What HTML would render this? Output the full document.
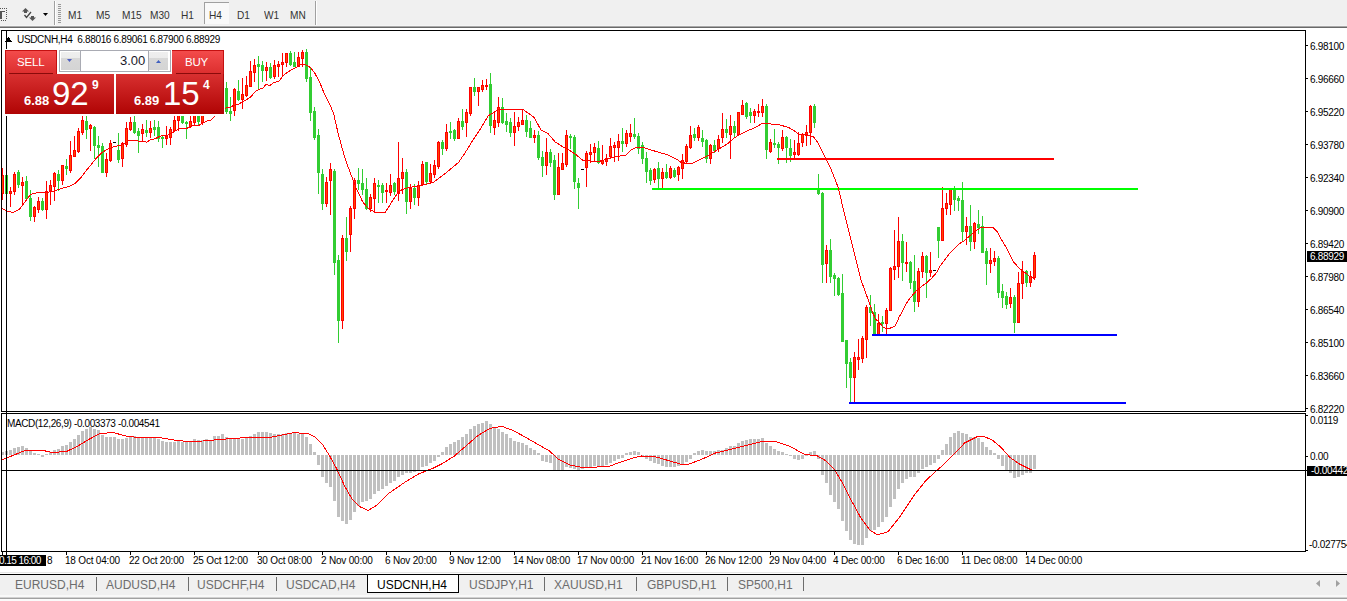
<!DOCTYPE html>
<html><head><meta charset="utf-8">
<style>
html,body{margin:0;padding:0;}
body{width:1347px;height:601px;overflow:hidden;position:relative;background:#fff;font-family:"Liberation Sans", sans-serif;}
.abs{position:absolute;}
.tb{position:absolute;left:0;top:0;width:1347px;height:26px;background:#f0f0f0;}
.tf{position:absolute;top:9px;font-size:11px;color:#333;line-height:12px;transform:scaleX(0.92);transform-origin:0 0;}
.pl{position:absolute;left:1310px;font-size:10px;line-height:12px;color:#000;letter-spacing:-0.3px;}
.tl{position:absolute;top:554px;font-size:10px;line-height:13px;color:#000;white-space:nowrap;letter-spacing:-0.2px;}
.tab{position:absolute;top:577px;font-size:12px;line-height:16px;color:#6d6d6d;white-space:nowrap;}
.sep{position:absolute;top:577px;width:1px;height:14px;background:#6d6d6d;}
</style></head><body>
<div class="tb"></div>
<div class="abs" style="left:0;top:25px;width:1347px;height:1px;background:#f4f4f4"></div>
<div class="abs" style="left:0;top:26px;width:1347px;height:1px;background:#a8a8a8"></div>
<div class="abs" style="left:0;top:27px;width:1347px;height:1px;background:#696969"></div>
<svg class="abs" style="left:0;top:0" width="70" height="26" viewBox="0 0 70 26">
 <rect x="0" y="11" width="5" height="1" fill="#555"/><rect x="0" y="11" width="2" height="8" fill="#555"/>
 <g fill="#555"><rect x="0" y="8" width="1" height="1"/><rect x="2" y="8" width="1" height="1"/><rect x="4" y="8" width="1" height="1"/><rect x="6" y="8" width="1" height="1"/><rect x="6" y="10" width="1" height="1"/><rect x="6" y="12" width="1" height="1"/><rect x="6" y="14" width="1" height="1"/><rect x="6" y="16" width="1" height="1"/><rect x="6" y="18" width="1" height="1"/><rect x="1" y="20" width="1" height="1"/><rect x="3" y="20" width="1" height="1"/><rect x="5" y="20" width="1" height="1"/></g>
 <path d="M22 11.5 L25.5 8 L29 11.5 Z" fill="#555"/><rect x="24" y="11" width="3" height="2" fill="#555"/><path d="M29 17.5 L32.5 21 L36 17.5 Z" fill="#555"/><rect x="31" y="16" width="3" height="2" fill="#555"/>
 <path d="M24.5 15 L26.5 17.5 L31 12" stroke="#444" stroke-width="1.3" fill="none"/>
 <path d="M43 13 L48 13 L45.5 16 Z" fill="#000"/>
 <rect x="54" y="1" width="1" height="24" fill="#a0a0a0"/><rect x="55" y="1" width="1" height="24" fill="#fff"/>
 <g fill="#999"><rect x="58" y="4" width="3" height="1"/><rect x="58" y="6" width="3" height="1"/><rect x="58" y="8" width="3" height="1"/><rect x="58" y="10" width="3" height="1"/><rect x="58" y="12" width="3" height="1"/><rect x="58" y="14" width="3" height="1"/><rect x="58" y="16" width="3" height="1"/><rect x="58" y="18" width="3" height="1"/><rect x="58" y="20" width="3" height="1"/><rect x="58" y="22" width="3" height="1"/></g>
</svg>
<div class="abs" style="left:204px;top:2px;width:24px;height:21px;border-left:1px solid #a0a0a0;border-top:1px solid #a0a0a0;background:#f9f9f9"></div>
<div class="tf" style="left:68px">M1</div>
<div class="tf" style="left:96px">M5</div>
<div class="tf" style="left:122px">M15</div>
<div class="tf" style="left:150px">M30</div>
<div class="tf" style="left:181px">H1</div>
<div class="tf" style="left:209px">H4</div>
<div class="tf" style="left:237px">D1</div>
<div class="tf" style="left:264px">W1</div>
<div class="tf" style="left:290px">MN</div>
<div class="abs" style="left:315px;top:1px;width:1px;height:24px;background:#a0a0a0"></div>
<div class="abs" style="left:316px;top:1px;width:1px;height:24px;background:#fff"></div>

<svg class="abs" style="left:0;top:0" width="1347" height="601" viewBox="0 0 1347 601">
<g shape-rendering="crispEdges">
<rect x="1.5" y="30.5" width="1304" height="381" fill="none" stroke="#000" stroke-width="1"/>
<rect x="1.5" y="413.5" width="1304" height="138" fill="none" stroke="#000" stroke-width="1"/>
<rect x="1306" y="45" width="2" height="1" fill="#000"/>
<rect x="1306" y="78" width="2" height="1" fill="#000"/>
<rect x="1306" y="111" width="2" height="1" fill="#000"/>
<rect x="1306" y="144" width="2" height="1" fill="#000"/>
<rect x="1306" y="177" width="2" height="1" fill="#000"/>
<rect x="1306" y="210" width="2" height="1" fill="#000"/>
<rect x="1306" y="243" width="2" height="1" fill="#000"/>
<rect x="1306" y="276" width="2" height="1" fill="#000"/>
<rect x="1306" y="309" width="2" height="1" fill="#000"/>
<rect x="1306" y="342" width="2" height="1" fill="#000"/>
<rect x="1306" y="375" width="2" height="1" fill="#000"/>
<rect x="1306" y="408" width="2" height="1" fill="#000"/>
<rect x="1306" y="415" width="2" height="1" fill="#000"/>
<rect x="1306" y="456" width="2" height="1" fill="#000"/>
<rect x="1306" y="550" width="2" height="1" fill="#000"/>
<rect x="66" y="552" width="1" height="3" fill="#000"/>
<rect x="130" y="552" width="1" height="3" fill="#000"/>
<rect x="194" y="552" width="1" height="3" fill="#000"/>
<rect x="258" y="552" width="1" height="3" fill="#000"/>
<rect x="322" y="552" width="1" height="3" fill="#000"/>
<rect x="386" y="552" width="1" height="3" fill="#000"/>
<rect x="450" y="552" width="1" height="3" fill="#000"/>
<rect x="514" y="552" width="1" height="3" fill="#000"/>
<rect x="578" y="552" width="1" height="3" fill="#000"/>
<rect x="642" y="552" width="1" height="3" fill="#000"/>
<rect x="706" y="552" width="1" height="3" fill="#000"/>
<rect x="770" y="552" width="1" height="3" fill="#000"/>
<rect x="834" y="552" width="1" height="3" fill="#000"/>
<rect x="898" y="552" width="1" height="3" fill="#000"/>
<rect x="962" y="552" width="1" height="3" fill="#000"/>
<rect x="1026" y="552" width="1" height="3" fill="#000"/>
</g>
<svg x="2" y="31" width="1303" height="380" viewBox="2 31 1303 380">
<g shape-rendering="crispEdges">
<rect x="2" y="168" width="1" height="32" fill="#ff0000"/>
<rect x="1" y="175" width="3" height="19" fill="#ff0000"/>
<rect x="2" y="176" width="1" height="17" fill="#ff4500"/>
<rect x="6" y="171" width="1" height="27" fill="#32cd32"/>
<rect x="5" y="175" width="3" height="19" fill="#32cd32"/>
<rect x="10" y="187" width="1" height="20" fill="#ff0000"/>
<rect x="9" y="191" width="3" height="3" fill="#ff0000"/>
<rect x="10" y="192" width="1" height="1" fill="#ff4500"/>
<rect x="14" y="172" width="1" height="23" fill="#ff0000"/>
<rect x="13" y="174" width="3" height="18" fill="#ff0000"/>
<rect x="14" y="175" width="1" height="16" fill="#ff4500"/>
<rect x="18" y="170" width="1" height="18" fill="#32cd32"/>
<rect x="17" y="172" width="3" height="13" fill="#32cd32"/>
<rect x="22" y="177" width="1" height="28" fill="#ff0000"/>
<rect x="21" y="182" width="3" height="4" fill="#ff0000"/>
<rect x="22" y="183" width="1" height="2" fill="#ff4500"/>
<rect x="26" y="176" width="1" height="24" fill="#32cd32"/>
<rect x="25" y="181" width="3" height="18" fill="#32cd32"/>
<rect x="30" y="190" width="1" height="31" fill="#32cd32"/>
<rect x="29" y="198" width="3" height="19" fill="#32cd32"/>
<rect x="34" y="206" width="1" height="16" fill="#ff0000"/>
<rect x="33" y="207" width="3" height="10" fill="#ff0000"/>
<rect x="34" y="208" width="1" height="8" fill="#ff4500"/>
<rect x="38" y="197" width="1" height="16" fill="#ff0000"/>
<rect x="37" y="201" width="3" height="9" fill="#ff0000"/>
<rect x="38" y="202" width="1" height="7" fill="#ff4500"/>
<rect x="42" y="198" width="1" height="13" fill="#32cd32"/>
<rect x="41" y="201" width="3" height="9" fill="#32cd32"/>
<rect x="46" y="181" width="1" height="38" fill="#ff0000"/>
<rect x="45" y="191" width="3" height="19" fill="#ff0000"/>
<rect x="46" y="192" width="1" height="17" fill="#ff4500"/>
<rect x="50" y="180" width="1" height="25" fill="#ff0000"/>
<rect x="49" y="185" width="3" height="6" fill="#ff0000"/>
<rect x="50" y="186" width="1" height="4" fill="#ff4500"/>
<rect x="54" y="172" width="1" height="29" fill="#ff0000"/>
<rect x="53" y="173" width="3" height="14" fill="#ff0000"/>
<rect x="54" y="174" width="1" height="12" fill="#ff4500"/>
<rect x="58" y="170" width="1" height="21" fill="#32cd32"/>
<rect x="57" y="174" width="3" height="7" fill="#32cd32"/>
<rect x="62" y="165" width="1" height="20" fill="#ff0000"/>
<rect x="61" y="165" width="3" height="16" fill="#ff0000"/>
<rect x="62" y="166" width="1" height="14" fill="#ff4500"/>
<rect x="66" y="159" width="1" height="16" fill="#32cd32"/>
<rect x="65" y="166" width="3" height="3" fill="#32cd32"/>
<rect x="70" y="141" width="1" height="32" fill="#ff0000"/>
<rect x="69" y="155" width="3" height="16" fill="#ff0000"/>
<rect x="70" y="156" width="1" height="14" fill="#ff4500"/>
<rect x="74" y="136" width="1" height="21" fill="#ff0000"/>
<rect x="73" y="150" width="3" height="7" fill="#ff0000"/>
<rect x="74" y="151" width="1" height="5" fill="#ff4500"/>
<rect x="78" y="128" width="1" height="25" fill="#ff0000"/>
<rect x="77" y="131" width="3" height="21" fill="#ff0000"/>
<rect x="78" y="132" width="1" height="19" fill="#ff4500"/>
<rect x="82" y="116" width="1" height="19" fill="#ff0000"/>
<rect x="81" y="120" width="3" height="13" fill="#ff0000"/>
<rect x="82" y="121" width="1" height="11" fill="#ff4500"/>
<rect x="86" y="116" width="1" height="23" fill="#32cd32"/>
<rect x="85" y="121" width="3" height="9" fill="#32cd32"/>
<rect x="90" y="124" width="1" height="27" fill="#ff0000"/>
<rect x="89" y="125" width="3" height="4" fill="#ff0000"/>
<rect x="90" y="126" width="1" height="2" fill="#ff4500"/>
<rect x="94" y="126" width="1" height="33" fill="#32cd32"/>
<rect x="93" y="127" width="3" height="19" fill="#32cd32"/>
<rect x="98" y="136" width="1" height="31" fill="#32cd32"/>
<rect x="97" y="145" width="3" height="3" fill="#32cd32"/>
<rect x="102" y="143" width="1" height="30" fill="#32cd32"/>
<rect x="101" y="146" width="3" height="27" fill="#32cd32"/>
<rect x="106" y="153" width="1" height="24" fill="#ff0000"/>
<rect x="105" y="159" width="3" height="14" fill="#ff0000"/>
<rect x="106" y="160" width="1" height="12" fill="#ff4500"/>
<rect x="110" y="140" width="1" height="22" fill="#ff0000"/>
<rect x="109" y="143" width="3" height="18" fill="#ff0000"/>
<rect x="110" y="144" width="1" height="16" fill="#ff4500"/>
<rect x="113" y="142" width="3" height="1" fill="#000"/>
<rect x="118" y="133" width="1" height="30" fill="#32cd32"/>
<rect x="117" y="150" width="3" height="10" fill="#32cd32"/>
<rect x="122" y="142" width="1" height="25" fill="#ff0000"/>
<rect x="121" y="143" width="3" height="16" fill="#ff0000"/>
<rect x="122" y="144" width="1" height="14" fill="#ff4500"/>
<rect x="126" y="122" width="1" height="25" fill="#ff0000"/>
<rect x="125" y="128" width="3" height="17" fill="#ff0000"/>
<rect x="126" y="129" width="1" height="15" fill="#ff4500"/>
<rect x="130" y="117" width="1" height="14" fill="#ff0000"/>
<rect x="129" y="122" width="3" height="8" fill="#ff0000"/>
<rect x="130" y="123" width="1" height="6" fill="#ff4500"/>
<rect x="134" y="116" width="1" height="18" fill="#32cd32"/>
<rect x="133" y="122" width="3" height="11" fill="#32cd32"/>
<rect x="138" y="128" width="1" height="25" fill="#32cd32"/>
<rect x="137" y="131" width="3" height="5" fill="#32cd32"/>
<rect x="142" y="124" width="1" height="17" fill="#ff0000"/>
<rect x="141" y="129" width="3" height="5" fill="#ff0000"/>
<rect x="142" y="130" width="1" height="3" fill="#ff4500"/>
<rect x="146" y="120" width="1" height="17" fill="#32cd32"/>
<rect x="145" y="130" width="3" height="3" fill="#32cd32"/>
<rect x="150" y="121" width="1" height="17" fill="#ff0000"/>
<rect x="149" y="128" width="3" height="5" fill="#ff0000"/>
<rect x="150" y="129" width="1" height="3" fill="#ff4500"/>
<rect x="154" y="120" width="1" height="16" fill="#32cd32"/>
<rect x="153" y="127" width="3" height="3" fill="#32cd32"/>
<rect x="158" y="121" width="1" height="21" fill="#32cd32"/>
<rect x="157" y="127" width="3" height="12" fill="#32cd32"/>
<rect x="162" y="135" width="1" height="13" fill="#32cd32"/>
<rect x="161" y="137" width="3" height="2" fill="#32cd32"/>
<rect x="166" y="126" width="1" height="19" fill="#ff0000"/>
<rect x="165" y="136" width="3" height="3" fill="#ff0000"/>
<rect x="166" y="137" width="1" height="1" fill="#ff4500"/>
<rect x="170" y="127" width="1" height="18" fill="#ff0000"/>
<rect x="169" y="129" width="3" height="9" fill="#ff0000"/>
<rect x="170" y="130" width="1" height="7" fill="#ff4500"/>
<rect x="174" y="116" width="1" height="15" fill="#ff0000"/>
<rect x="173" y="120" width="3" height="11" fill="#ff0000"/>
<rect x="174" y="121" width="1" height="9" fill="#ff4500"/>
<rect x="178" y="110" width="1" height="21" fill="#ff0000"/>
<rect x="177" y="112" width="3" height="9" fill="#ff0000"/>
<rect x="178" y="113" width="1" height="7" fill="#ff4500"/>
<rect x="182" y="108" width="1" height="16" fill="#32cd32"/>
<rect x="181" y="112" width="3" height="11" fill="#32cd32"/>
<rect x="186" y="121" width="1" height="18" fill="#32cd32"/>
<rect x="185" y="122" width="3" height="2" fill="#32cd32"/>
<rect x="190" y="110" width="1" height="18" fill="#ff0000"/>
<rect x="189" y="121" width="3" height="6" fill="#ff0000"/>
<rect x="190" y="122" width="1" height="4" fill="#ff4500"/>
<rect x="194" y="105" width="1" height="20" fill="#ff0000"/>
<rect x="193" y="110" width="3" height="13" fill="#ff0000"/>
<rect x="194" y="111" width="1" height="11" fill="#ff4500"/>
<rect x="198" y="105" width="1" height="20" fill="#32cd32"/>
<rect x="197" y="110" width="3" height="12" fill="#32cd32"/>
<rect x="202" y="105" width="1" height="20" fill="#ff0000"/>
<rect x="201" y="110" width="3" height="13" fill="#ff0000"/>
<rect x="202" y="111" width="1" height="11" fill="#ff4500"/>
<rect x="206" y="100" width="1" height="13" fill="#ff0000"/>
<rect x="205" y="103" width="3" height="8" fill="#ff0000"/>
<rect x="206" y="104" width="1" height="6" fill="#ff4500"/>
<rect x="210" y="98" width="1" height="13" fill="#32cd32"/>
<rect x="209" y="100" width="3" height="7" fill="#32cd32"/>
<rect x="214" y="95" width="1" height="14" fill="#ff0000"/>
<rect x="213" y="98" width="3" height="8" fill="#ff0000"/>
<rect x="214" y="99" width="1" height="6" fill="#ff4500"/>
<rect x="218" y="90" width="1" height="15" fill="#ff0000"/>
<rect x="217" y="93" width="3" height="8" fill="#ff0000"/>
<rect x="218" y="94" width="1" height="6" fill="#ff4500"/>
<rect x="222" y="85" width="1" height="16" fill="#ff0000"/>
<rect x="221" y="88" width="3" height="8" fill="#ff0000"/>
<rect x="222" y="89" width="1" height="6" fill="#ff4500"/>
<rect x="226" y="82" width="1" height="32" fill="#32cd32"/>
<rect x="225" y="88" width="3" height="24" fill="#32cd32"/>
<rect x="230" y="97" width="1" height="24" fill="#32cd32"/>
<rect x="229" y="111" width="3" height="3" fill="#32cd32"/>
<rect x="234" y="88" width="1" height="28" fill="#ff0000"/>
<rect x="233" y="89" width="3" height="22" fill="#ff0000"/>
<rect x="234" y="90" width="1" height="20" fill="#ff4500"/>
<rect x="238" y="80" width="1" height="21" fill="#32cd32"/>
<rect x="237" y="91" width="3" height="9" fill="#32cd32"/>
<rect x="242" y="78" width="1" height="31" fill="#ff0000"/>
<rect x="241" y="94" width="3" height="6" fill="#ff0000"/>
<rect x="242" y="95" width="1" height="4" fill="#ff4500"/>
<rect x="246" y="76" width="1" height="21" fill="#ff0000"/>
<rect x="245" y="85" width="3" height="11" fill="#ff0000"/>
<rect x="246" y="86" width="1" height="9" fill="#ff4500"/>
<rect x="250" y="61" width="1" height="26" fill="#ff0000"/>
<rect x="249" y="71" width="3" height="16" fill="#ff0000"/>
<rect x="250" y="72" width="1" height="14" fill="#ff4500"/>
<rect x="254" y="59" width="1" height="23" fill="#ff0000"/>
<rect x="253" y="65" width="3" height="8" fill="#ff0000"/>
<rect x="254" y="66" width="1" height="6" fill="#ff4500"/>
<rect x="258" y="56" width="1" height="33" fill="#32cd32"/>
<rect x="257" y="64" width="3" height="3" fill="#32cd32"/>
<rect x="262" y="61" width="1" height="21" fill="#32cd32"/>
<rect x="261" y="65" width="3" height="6" fill="#32cd32"/>
<rect x="266" y="62" width="1" height="19" fill="#ff0000"/>
<rect x="265" y="67" width="3" height="4" fill="#ff0000"/>
<rect x="266" y="68" width="1" height="2" fill="#ff4500"/>
<rect x="270" y="63" width="1" height="16" fill="#32cd32"/>
<rect x="269" y="67" width="3" height="11" fill="#32cd32"/>
<rect x="274" y="60" width="1" height="19" fill="#ff0000"/>
<rect x="273" y="65" width="3" height="12" fill="#ff0000"/>
<rect x="274" y="66" width="1" height="10" fill="#ff4500"/>
<rect x="278" y="61" width="1" height="16" fill="#ff0000"/>
<rect x="277" y="64" width="3" height="3" fill="#ff0000"/>
<rect x="278" y="65" width="1" height="1" fill="#ff4500"/>
<rect x="282" y="53" width="1" height="24" fill="#ff0000"/>
<rect x="281" y="62" width="3" height="3" fill="#ff0000"/>
<rect x="282" y="63" width="1" height="1" fill="#ff4500"/>
<rect x="286" y="53" width="1" height="14" fill="#ff0000"/>
<rect x="285" y="53" width="3" height="10" fill="#ff0000"/>
<rect x="286" y="54" width="1" height="8" fill="#ff4500"/>
<rect x="290" y="51" width="1" height="15" fill="#32cd32"/>
<rect x="289" y="53" width="3" height="12" fill="#32cd32"/>
<rect x="294" y="52" width="1" height="15" fill="#32cd32"/>
<rect x="293" y="62" width="3" height="5" fill="#32cd32"/>
<rect x="298" y="52" width="1" height="15" fill="#ff0000"/>
<rect x="297" y="57" width="3" height="10" fill="#ff0000"/>
<rect x="298" y="58" width="1" height="8" fill="#ff4500"/>
<rect x="302" y="50" width="1" height="17" fill="#ff0000"/>
<rect x="301" y="52" width="3" height="7" fill="#ff0000"/>
<rect x="302" y="53" width="1" height="5" fill="#ff4500"/>
<rect x="306" y="49" width="1" height="33" fill="#32cd32"/>
<rect x="305" y="52" width="3" height="27" fill="#32cd32"/>
<rect x="310" y="68" width="1" height="53" fill="#32cd32"/>
<rect x="309" y="77" width="3" height="36" fill="#32cd32"/>
<rect x="314" y="107" width="1" height="33" fill="#32cd32"/>
<rect x="313" y="111" width="3" height="27" fill="#32cd32"/>
<rect x="318" y="129" width="1" height="65" fill="#32cd32"/>
<rect x="317" y="135" width="3" height="38" fill="#32cd32"/>
<rect x="322" y="169" width="1" height="41" fill="#32cd32"/>
<rect x="321" y="174" width="3" height="30" fill="#32cd32"/>
<rect x="326" y="177" width="1" height="30" fill="#ff0000"/>
<rect x="325" y="182" width="3" height="22" fill="#ff0000"/>
<rect x="326" y="183" width="1" height="20" fill="#ff4500"/>
<rect x="330" y="163" width="1" height="52" fill="#ff0000"/>
<rect x="329" y="169" width="3" height="12" fill="#ff0000"/>
<rect x="330" y="170" width="1" height="10" fill="#ff4500"/>
<rect x="334" y="169" width="1" height="106" fill="#32cd32"/>
<rect x="333" y="171" width="3" height="92" fill="#32cd32"/>
<rect x="338" y="255" width="1" height="88" fill="#32cd32"/>
<rect x="337" y="260" width="3" height="61" fill="#32cd32"/>
<rect x="342" y="235" width="1" height="94" fill="#ff0000"/>
<rect x="341" y="238" width="3" height="83" fill="#ff0000"/>
<rect x="342" y="239" width="1" height="81" fill="#ff4500"/>
<rect x="346" y="217" width="1" height="44" fill="#32cd32"/>
<rect x="345" y="238" width="3" height="14" fill="#32cd32"/>
<rect x="350" y="206" width="1" height="46" fill="#ff0000"/>
<rect x="349" y="208" width="3" height="27" fill="#ff0000"/>
<rect x="350" y="209" width="1" height="25" fill="#ff4500"/>
<rect x="354" y="178" width="1" height="41" fill="#ff0000"/>
<rect x="353" y="180" width="3" height="29" fill="#ff0000"/>
<rect x="354" y="181" width="1" height="27" fill="#ff4500"/>
<rect x="358" y="168" width="1" height="22" fill="#32cd32"/>
<rect x="357" y="180" width="3" height="4" fill="#32cd32"/>
<rect x="362" y="169" width="1" height="26" fill="#32cd32"/>
<rect x="361" y="183" width="3" height="7" fill="#32cd32"/>
<rect x="366" y="178" width="1" height="32" fill="#32cd32"/>
<rect x="365" y="189" width="3" height="20" fill="#32cd32"/>
<rect x="370" y="194" width="1" height="18" fill="#ff0000"/>
<rect x="369" y="197" width="3" height="12" fill="#ff0000"/>
<rect x="370" y="198" width="1" height="10" fill="#ff4500"/>
<rect x="374" y="178" width="1" height="35" fill="#ff0000"/>
<rect x="373" y="183" width="3" height="16" fill="#ff0000"/>
<rect x="374" y="184" width="1" height="14" fill="#ff4500"/>
<rect x="378" y="180" width="1" height="23" fill="#32cd32"/>
<rect x="377" y="185" width="3" height="2" fill="#32cd32"/>
<rect x="382" y="183" width="1" height="20" fill="#32cd32"/>
<rect x="381" y="185" width="3" height="8" fill="#32cd32"/>
<rect x="386" y="183" width="1" height="20" fill="#ff0000"/>
<rect x="385" y="190" width="3" height="2" fill="#ff0000"/>
<rect x="390" y="174" width="1" height="22" fill="#ff0000"/>
<rect x="389" y="185" width="3" height="8" fill="#ff0000"/>
<rect x="390" y="186" width="1" height="6" fill="#ff4500"/>
<rect x="394" y="182" width="1" height="13" fill="#32cd32"/>
<rect x="393" y="183" width="3" height="9" fill="#32cd32"/>
<rect x="398" y="142" width="1" height="59" fill="#ff0000"/>
<rect x="397" y="178" width="3" height="16" fill="#ff0000"/>
<rect x="398" y="179" width="1" height="14" fill="#ff4500"/>
<rect x="402" y="158" width="1" height="36" fill="#ff0000"/>
<rect x="401" y="172" width="3" height="7" fill="#ff0000"/>
<rect x="402" y="173" width="1" height="5" fill="#ff4500"/>
<rect x="406" y="169" width="1" height="45" fill="#32cd32"/>
<rect x="405" y="172" width="3" height="30" fill="#32cd32"/>
<rect x="410" y="184" width="1" height="25" fill="#ff0000"/>
<rect x="409" y="188" width="3" height="14" fill="#ff0000"/>
<rect x="410" y="189" width="1" height="12" fill="#ff4500"/>
<rect x="414" y="184" width="1" height="21" fill="#32cd32"/>
<rect x="413" y="188" width="3" height="10" fill="#32cd32"/>
<rect x="418" y="181" width="1" height="25" fill="#ff0000"/>
<rect x="417" y="185" width="3" height="13" fill="#ff0000"/>
<rect x="418" y="186" width="1" height="11" fill="#ff4500"/>
<rect x="422" y="161" width="1" height="25" fill="#ff0000"/>
<rect x="421" y="164" width="3" height="21" fill="#ff0000"/>
<rect x="422" y="165" width="1" height="19" fill="#ff4500"/>
<rect x="426" y="162" width="1" height="23" fill="#32cd32"/>
<rect x="425" y="162" width="3" height="20" fill="#32cd32"/>
<rect x="430" y="164" width="1" height="19" fill="#ff0000"/>
<rect x="429" y="173" width="3" height="9" fill="#ff0000"/>
<rect x="430" y="174" width="1" height="7" fill="#ff4500"/>
<rect x="434" y="160" width="1" height="18" fill="#ff0000"/>
<rect x="433" y="165" width="3" height="10" fill="#ff0000"/>
<rect x="434" y="166" width="1" height="8" fill="#ff4500"/>
<rect x="438" y="141" width="1" height="28" fill="#ff0000"/>
<rect x="437" y="142" width="3" height="25" fill="#ff0000"/>
<rect x="438" y="143" width="1" height="23" fill="#ff4500"/>
<rect x="442" y="140" width="1" height="15" fill="#32cd32"/>
<rect x="441" y="142" width="3" height="7" fill="#32cd32"/>
<rect x="446" y="124" width="1" height="27" fill="#ff0000"/>
<rect x="445" y="132" width="3" height="17" fill="#ff0000"/>
<rect x="446" y="133" width="1" height="15" fill="#ff4500"/>
<rect x="450" y="122" width="1" height="17" fill="#32cd32"/>
<rect x="449" y="131" width="3" height="2" fill="#32cd32"/>
<rect x="454" y="129" width="1" height="12" fill="#32cd32"/>
<rect x="453" y="130" width="3" height="9" fill="#32cd32"/>
<rect x="458" y="118" width="1" height="21" fill="#ff0000"/>
<rect x="457" y="121" width="3" height="18" fill="#ff0000"/>
<rect x="458" y="122" width="1" height="16" fill="#ff4500"/>
<rect x="462" y="109" width="1" height="21" fill="#32cd32"/>
<rect x="461" y="121" width="3" height="6" fill="#32cd32"/>
<rect x="466" y="109" width="1" height="28" fill="#ff0000"/>
<rect x="465" y="112" width="3" height="11" fill="#ff0000"/>
<rect x="466" y="113" width="1" height="9" fill="#ff4500"/>
<rect x="470" y="87" width="1" height="29" fill="#ff0000"/>
<rect x="469" y="87" width="3" height="27" fill="#ff0000"/>
<rect x="470" y="88" width="1" height="25" fill="#ff4500"/>
<rect x="474" y="78" width="1" height="18" fill="#32cd32"/>
<rect x="473" y="87" width="3" height="5" fill="#32cd32"/>
<rect x="478" y="87" width="1" height="19" fill="#ff0000"/>
<rect x="477" y="87" width="3" height="5" fill="#ff0000"/>
<rect x="478" y="88" width="1" height="3" fill="#ff4500"/>
<rect x="482" y="80" width="1" height="12" fill="#ff0000"/>
<rect x="481" y="85" width="3" height="5" fill="#ff0000"/>
<rect x="482" y="86" width="1" height="3" fill="#ff4500"/>
<rect x="486" y="79" width="1" height="11" fill="#ff0000"/>
<rect x="485" y="85" width="3" height="2" fill="#ff0000"/>
<rect x="490" y="73" width="1" height="60" fill="#32cd32"/>
<rect x="489" y="84" width="3" height="42" fill="#32cd32"/>
<rect x="494" y="112" width="1" height="23" fill="#ff0000"/>
<rect x="493" y="120" width="3" height="8" fill="#ff0000"/>
<rect x="494" y="121" width="1" height="6" fill="#ff4500"/>
<rect x="498" y="97" width="1" height="30" fill="#ff0000"/>
<rect x="497" y="107" width="3" height="16" fill="#ff0000"/>
<rect x="498" y="108" width="1" height="14" fill="#ff4500"/>
<rect x="502" y="98" width="1" height="26" fill="#32cd32"/>
<rect x="501" y="107" width="3" height="16" fill="#32cd32"/>
<rect x="506" y="113" width="1" height="19" fill="#32cd32"/>
<rect x="505" y="121" width="3" height="4" fill="#32cd32"/>
<rect x="510" y="118" width="1" height="19" fill="#32cd32"/>
<rect x="509" y="122" width="3" height="11" fill="#32cd32"/>
<rect x="514" y="112" width="1" height="34" fill="#ff0000"/>
<rect x="513" y="126" width="3" height="7" fill="#ff0000"/>
<rect x="514" y="127" width="1" height="5" fill="#ff4500"/>
<rect x="518" y="117" width="1" height="14" fill="#ff0000"/>
<rect x="517" y="122" width="3" height="5" fill="#ff0000"/>
<rect x="518" y="123" width="1" height="3" fill="#ff4500"/>
<rect x="522" y="110" width="1" height="15" fill="#ff0000"/>
<rect x="521" y="120" width="3" height="5" fill="#ff0000"/>
<rect x="522" y="121" width="1" height="3" fill="#ff4500"/>
<rect x="526" y="115" width="1" height="22" fill="#32cd32"/>
<rect x="525" y="120" width="3" height="12" fill="#32cd32"/>
<rect x="530" y="121" width="1" height="17" fill="#32cd32"/>
<rect x="529" y="128" width="3" height="10" fill="#32cd32"/>
<rect x="534" y="130" width="1" height="13" fill="#ff0000"/>
<rect x="533" y="135" width="3" height="3" fill="#ff0000"/>
<rect x="534" y="136" width="1" height="1" fill="#ff4500"/>
<rect x="538" y="131" width="1" height="29" fill="#32cd32"/>
<rect x="537" y="135" width="3" height="23" fill="#32cd32"/>
<rect x="542" y="151" width="1" height="26" fill="#32cd32"/>
<rect x="541" y="157" width="3" height="9" fill="#32cd32"/>
<rect x="546" y="138" width="1" height="37" fill="#ff0000"/>
<rect x="545" y="152" width="3" height="14" fill="#ff0000"/>
<rect x="546" y="153" width="1" height="12" fill="#ff4500"/>
<rect x="550" y="149" width="1" height="18" fill="#32cd32"/>
<rect x="549" y="152" width="3" height="11" fill="#32cd32"/>
<rect x="554" y="155" width="1" height="45" fill="#32cd32"/>
<rect x="553" y="160" width="3" height="35" fill="#32cd32"/>
<rect x="558" y="153" width="1" height="42" fill="#ff0000"/>
<rect x="557" y="167" width="3" height="28" fill="#ff0000"/>
<rect x="558" y="168" width="1" height="26" fill="#ff4500"/>
<rect x="562" y="153" width="1" height="17" fill="#ff0000"/>
<rect x="561" y="163" width="3" height="7" fill="#ff0000"/>
<rect x="562" y="164" width="1" height="5" fill="#ff4500"/>
<rect x="566" y="130" width="1" height="37" fill="#ff0000"/>
<rect x="565" y="135" width="3" height="30" fill="#ff0000"/>
<rect x="566" y="136" width="1" height="28" fill="#ff4500"/>
<rect x="570" y="134" width="1" height="15" fill="#32cd32"/>
<rect x="569" y="136" width="3" height="2" fill="#32cd32"/>
<rect x="574" y="135" width="1" height="54" fill="#32cd32"/>
<rect x="573" y="137" width="3" height="45" fill="#32cd32"/>
<rect x="578" y="178" width="1" height="31" fill="#32cd32"/>
<rect x="577" y="183" width="3" height="5" fill="#32cd32"/>
<rect x="581" y="169" width="3" height="1" fill="#000"/>
<rect x="586" y="151" width="1" height="36" fill="#ff0000"/>
<rect x="585" y="153" width="3" height="15" fill="#ff0000"/>
<rect x="586" y="154" width="1" height="13" fill="#ff4500"/>
<rect x="590" y="144" width="1" height="19" fill="#ff0000"/>
<rect x="589" y="152" width="3" height="3" fill="#ff0000"/>
<rect x="590" y="153" width="1" height="1" fill="#ff4500"/>
<rect x="594" y="143" width="1" height="19" fill="#ff0000"/>
<rect x="593" y="147" width="3" height="6" fill="#ff0000"/>
<rect x="594" y="148" width="1" height="4" fill="#ff4500"/>
<rect x="598" y="141" width="1" height="23" fill="#32cd32"/>
<rect x="597" y="148" width="3" height="15" fill="#32cd32"/>
<rect x="602" y="145" width="1" height="20" fill="#ff0000"/>
<rect x="601" y="160" width="3" height="4" fill="#ff0000"/>
<rect x="602" y="161" width="1" height="2" fill="#ff4500"/>
<rect x="606" y="154" width="1" height="12" fill="#ff0000"/>
<rect x="605" y="158" width="3" height="4" fill="#ff0000"/>
<rect x="606" y="159" width="1" height="2" fill="#ff4500"/>
<rect x="610" y="138" width="1" height="21" fill="#ff0000"/>
<rect x="609" y="146" width="3" height="11" fill="#ff0000"/>
<rect x="610" y="147" width="1" height="9" fill="#ff4500"/>
<rect x="614" y="142" width="1" height="20" fill="#ff0000"/>
<rect x="613" y="145" width="3" height="3" fill="#ff0000"/>
<rect x="614" y="146" width="1" height="1" fill="#ff4500"/>
<rect x="618" y="134" width="1" height="27" fill="#ff0000"/>
<rect x="617" y="141" width="3" height="7" fill="#ff0000"/>
<rect x="618" y="142" width="1" height="5" fill="#ff4500"/>
<rect x="622" y="128" width="1" height="24" fill="#32cd32"/>
<rect x="621" y="141" width="3" height="3" fill="#32cd32"/>
<rect x="626" y="130" width="1" height="17" fill="#ff0000"/>
<rect x="625" y="133" width="3" height="11" fill="#ff0000"/>
<rect x="626" y="134" width="1" height="9" fill="#ff4500"/>
<rect x="630" y="124" width="1" height="18" fill="#ff0000"/>
<rect x="629" y="133" width="3" height="4" fill="#ff0000"/>
<rect x="630" y="134" width="1" height="2" fill="#ff4500"/>
<rect x="634" y="118" width="1" height="21" fill="#32cd32"/>
<rect x="633" y="134" width="3" height="3" fill="#32cd32"/>
<rect x="638" y="133" width="1" height="21" fill="#32cd32"/>
<rect x="637" y="136" width="3" height="13" fill="#32cd32"/>
<rect x="642" y="142" width="1" height="22" fill="#32cd32"/>
<rect x="641" y="145" width="3" height="14" fill="#32cd32"/>
<rect x="646" y="152" width="1" height="31" fill="#32cd32"/>
<rect x="645" y="158" width="3" height="14" fill="#32cd32"/>
<rect x="650" y="168" width="1" height="17" fill="#32cd32"/>
<rect x="649" y="170" width="3" height="11" fill="#32cd32"/>
<rect x="654" y="168" width="1" height="15" fill="#ff0000"/>
<rect x="653" y="169" width="3" height="11" fill="#ff0000"/>
<rect x="654" y="170" width="1" height="9" fill="#ff4500"/>
<rect x="658" y="162" width="1" height="27" fill="#32cd32"/>
<rect x="657" y="168" width="3" height="11" fill="#32cd32"/>
<rect x="662" y="168" width="1" height="21" fill="#ff0000"/>
<rect x="661" y="172" width="3" height="7" fill="#ff0000"/>
<rect x="662" y="173" width="1" height="5" fill="#ff4500"/>
<rect x="666" y="164" width="1" height="15" fill="#32cd32"/>
<rect x="665" y="172" width="3" height="6" fill="#32cd32"/>
<rect x="670" y="166" width="1" height="13" fill="#ff0000"/>
<rect x="669" y="168" width="3" height="10" fill="#ff0000"/>
<rect x="670" y="169" width="1" height="8" fill="#ff4500"/>
<rect x="674" y="168" width="1" height="10" fill="#32cd32"/>
<rect x="673" y="170" width="3" height="7" fill="#32cd32"/>
<rect x="678" y="166" width="1" height="15" fill="#ff0000"/>
<rect x="677" y="167" width="3" height="8" fill="#ff0000"/>
<rect x="678" y="168" width="1" height="6" fill="#ff4500"/>
<rect x="682" y="154" width="1" height="25" fill="#ff0000"/>
<rect x="681" y="160" width="3" height="9" fill="#ff0000"/>
<rect x="682" y="161" width="1" height="7" fill="#ff4500"/>
<rect x="686" y="144" width="1" height="20" fill="#ff0000"/>
<rect x="685" y="146" width="3" height="16" fill="#ff0000"/>
<rect x="686" y="147" width="1" height="14" fill="#ff4500"/>
<rect x="690" y="126" width="1" height="23" fill="#ff0000"/>
<rect x="689" y="135" width="3" height="13" fill="#ff0000"/>
<rect x="690" y="136" width="1" height="11" fill="#ff4500"/>
<rect x="694" y="128" width="1" height="13" fill="#32cd32"/>
<rect x="693" y="134" width="3" height="4" fill="#32cd32"/>
<rect x="698" y="125" width="1" height="16" fill="#ff0000"/>
<rect x="697" y="127" width="3" height="11" fill="#ff0000"/>
<rect x="698" y="128" width="1" height="9" fill="#ff4500"/>
<rect x="702" y="130" width="1" height="17" fill="#32cd32"/>
<rect x="701" y="138" width="3" height="4" fill="#32cd32"/>
<rect x="706" y="139" width="1" height="24" fill="#32cd32"/>
<rect x="705" y="140" width="3" height="19" fill="#32cd32"/>
<rect x="710" y="144" width="1" height="20" fill="#ff0000"/>
<rect x="709" y="145" width="3" height="14" fill="#ff0000"/>
<rect x="710" y="146" width="1" height="12" fill="#ff4500"/>
<rect x="714" y="140" width="1" height="13" fill="#32cd32"/>
<rect x="713" y="145" width="3" height="6" fill="#32cd32"/>
<rect x="718" y="135" width="1" height="17" fill="#ff0000"/>
<rect x="717" y="139" width="3" height="10" fill="#ff0000"/>
<rect x="718" y="140" width="1" height="8" fill="#ff4500"/>
<rect x="722" y="113" width="1" height="30" fill="#ff0000"/>
<rect x="721" y="129" width="3" height="9" fill="#ff0000"/>
<rect x="722" y="130" width="1" height="7" fill="#ff4500"/>
<rect x="726" y="119" width="1" height="19" fill="#32cd32"/>
<rect x="725" y="129" width="3" height="4" fill="#32cd32"/>
<rect x="730" y="115" width="1" height="44" fill="#ff0000"/>
<rect x="729" y="126" width="3" height="9" fill="#ff0000"/>
<rect x="730" y="127" width="1" height="7" fill="#ff4500"/>
<rect x="734" y="121" width="1" height="17" fill="#32cd32"/>
<rect x="733" y="126" width="3" height="7" fill="#32cd32"/>
<rect x="738" y="112" width="1" height="24" fill="#ff0000"/>
<rect x="737" y="112" width="3" height="23" fill="#ff0000"/>
<rect x="738" y="113" width="1" height="21" fill="#ff4500"/>
<rect x="742" y="100" width="1" height="15" fill="#ff0000"/>
<rect x="741" y="105" width="3" height="10" fill="#ff0000"/>
<rect x="742" y="106" width="1" height="8" fill="#ff4500"/>
<rect x="746" y="102" width="1" height="17" fill="#32cd32"/>
<rect x="745" y="103" width="3" height="14" fill="#32cd32"/>
<rect x="750" y="108" width="1" height="15" fill="#32cd32"/>
<rect x="749" y="112" width="3" height="4" fill="#32cd32"/>
<rect x="754" y="109" width="1" height="14" fill="#ff0000"/>
<rect x="753" y="111" width="3" height="5" fill="#ff0000"/>
<rect x="754" y="112" width="1" height="3" fill="#ff4500"/>
<rect x="758" y="104" width="1" height="13" fill="#ff0000"/>
<rect x="757" y="111" width="3" height="2" fill="#ff0000"/>
<rect x="762" y="99" width="1" height="18" fill="#ff0000"/>
<rect x="761" y="106" width="3" height="7" fill="#ff0000"/>
<rect x="762" y="107" width="1" height="5" fill="#ff4500"/>
<rect x="766" y="104" width="1" height="55" fill="#32cd32"/>
<rect x="765" y="106" width="3" height="44" fill="#32cd32"/>
<rect x="770" y="139" width="1" height="14" fill="#ff0000"/>
<rect x="769" y="142" width="3" height="10" fill="#ff0000"/>
<rect x="770" y="143" width="1" height="8" fill="#ff4500"/>
<rect x="774" y="129" width="1" height="19" fill="#32cd32"/>
<rect x="773" y="143" width="3" height="2" fill="#32cd32"/>
<rect x="778" y="142" width="1" height="22" fill="#32cd32"/>
<rect x="777" y="144" width="3" height="4" fill="#32cd32"/>
<rect x="782" y="130" width="1" height="21" fill="#ff0000"/>
<rect x="781" y="137" width="3" height="12" fill="#ff0000"/>
<rect x="782" y="138" width="1" height="10" fill="#ff4500"/>
<rect x="786" y="136" width="1" height="27" fill="#32cd32"/>
<rect x="785" y="137" width="3" height="11" fill="#32cd32"/>
<rect x="790" y="139" width="1" height="23" fill="#32cd32"/>
<rect x="789" y="148" width="3" height="8" fill="#32cd32"/>
<rect x="794" y="140" width="1" height="19" fill="#ff0000"/>
<rect x="793" y="152" width="3" height="3" fill="#ff0000"/>
<rect x="794" y="153" width="1" height="1" fill="#ff4500"/>
<rect x="798" y="132" width="1" height="24" fill="#ff0000"/>
<rect x="797" y="143" width="3" height="12" fill="#ff0000"/>
<rect x="798" y="144" width="1" height="10" fill="#ff4500"/>
<rect x="802" y="133" width="1" height="14" fill="#ff0000"/>
<rect x="801" y="134" width="3" height="9" fill="#ff0000"/>
<rect x="802" y="135" width="1" height="7" fill="#ff4500"/>
<rect x="806" y="125" width="1" height="21" fill="#ff0000"/>
<rect x="805" y="132" width="3" height="3" fill="#ff0000"/>
<rect x="806" y="133" width="1" height="1" fill="#ff4500"/>
<rect x="810" y="105" width="1" height="40" fill="#ff0000"/>
<rect x="809" y="106" width="3" height="27" fill="#ff0000"/>
<rect x="810" y="107" width="1" height="25" fill="#ff4500"/>
<rect x="814" y="104" width="1" height="24" fill="#32cd32"/>
<rect x="813" y="106" width="3" height="17" fill="#32cd32"/>
<rect x="818" y="174" width="1" height="21" fill="#32cd32"/>
<rect x="817" y="189" width="3" height="5" fill="#32cd32"/>
<rect x="822" y="192" width="1" height="91" fill="#32cd32"/>
<rect x="821" y="193" width="3" height="72" fill="#32cd32"/>
<rect x="826" y="245" width="1" height="38" fill="#ff0000"/>
<rect x="825" y="250" width="3" height="14" fill="#ff0000"/>
<rect x="826" y="251" width="1" height="12" fill="#ff4500"/>
<rect x="830" y="239" width="1" height="44" fill="#32cd32"/>
<rect x="829" y="250" width="3" height="27" fill="#32cd32"/>
<rect x="834" y="273" width="1" height="23" fill="#32cd32"/>
<rect x="833" y="275" width="3" height="4" fill="#32cd32"/>
<rect x="838" y="277" width="1" height="19" fill="#32cd32"/>
<rect x="837" y="278" width="3" height="17" fill="#32cd32"/>
<rect x="842" y="274" width="1" height="68" fill="#32cd32"/>
<rect x="841" y="293" width="3" height="49" fill="#32cd32"/>
<rect x="846" y="340" width="1" height="48" fill="#32cd32"/>
<rect x="845" y="340" width="3" height="24" fill="#32cd32"/>
<rect x="850" y="358" width="1" height="44" fill="#32cd32"/>
<rect x="849" y="362" width="3" height="16" fill="#32cd32"/>
<rect x="854" y="352" width="1" height="51" fill="#ff0000"/>
<rect x="853" y="357" width="3" height="21" fill="#ff0000"/>
<rect x="854" y="358" width="1" height="19" fill="#ff4500"/>
<rect x="858" y="339" width="1" height="31" fill="#ff0000"/>
<rect x="857" y="357" width="3" height="3" fill="#ff0000"/>
<rect x="858" y="358" width="1" height="1" fill="#ff4500"/>
<rect x="862" y="336" width="1" height="27" fill="#ff0000"/>
<rect x="861" y="338" width="3" height="21" fill="#ff0000"/>
<rect x="862" y="339" width="1" height="19" fill="#ff4500"/>
<rect x="866" y="305" width="1" height="53" fill="#ff0000"/>
<rect x="865" y="307" width="3" height="33" fill="#ff0000"/>
<rect x="866" y="308" width="1" height="31" fill="#ff4500"/>
<rect x="870" y="295" width="1" height="31" fill="#32cd32"/>
<rect x="869" y="307" width="3" height="6" fill="#32cd32"/>
<rect x="874" y="304" width="1" height="31" fill="#32cd32"/>
<rect x="873" y="312" width="3" height="23" fill="#32cd32"/>
<rect x="878" y="314" width="1" height="21" fill="#ff0000"/>
<rect x="877" y="323" width="3" height="12" fill="#ff0000"/>
<rect x="878" y="324" width="1" height="10" fill="#ff4500"/>
<rect x="882" y="316" width="1" height="16" fill="#32cd32"/>
<rect x="881" y="322" width="3" height="2" fill="#32cd32"/>
<rect x="886" y="308" width="1" height="27" fill="#ff0000"/>
<rect x="885" y="310" width="3" height="14" fill="#ff0000"/>
<rect x="886" y="311" width="1" height="12" fill="#ff4500"/>
<rect x="890" y="267" width="1" height="44" fill="#ff0000"/>
<rect x="889" y="268" width="3" height="43" fill="#ff0000"/>
<rect x="890" y="269" width="1" height="41" fill="#ff4500"/>
<rect x="894" y="230" width="1" height="50" fill="#ff0000"/>
<rect x="893" y="266" width="3" height="4" fill="#ff0000"/>
<rect x="894" y="267" width="1" height="2" fill="#ff4500"/>
<rect x="898" y="217" width="1" height="61" fill="#ff0000"/>
<rect x="897" y="241" width="3" height="26" fill="#ff0000"/>
<rect x="898" y="242" width="1" height="24" fill="#ff4500"/>
<rect x="902" y="234" width="1" height="47" fill="#32cd32"/>
<rect x="901" y="241" width="3" height="22" fill="#32cd32"/>
<rect x="906" y="242" width="1" height="30" fill="#ff0000"/>
<rect x="905" y="262" width="3" height="2" fill="#ff0000"/>
<rect x="910" y="261" width="1" height="28" fill="#32cd32"/>
<rect x="909" y="262" width="3" height="21" fill="#32cd32"/>
<rect x="914" y="255" width="1" height="57" fill="#32cd32"/>
<rect x="913" y="281" width="3" height="21" fill="#32cd32"/>
<rect x="918" y="268" width="1" height="39" fill="#ff0000"/>
<rect x="917" y="271" width="3" height="31" fill="#ff0000"/>
<rect x="918" y="272" width="1" height="29" fill="#ff4500"/>
<rect x="922" y="252" width="1" height="26" fill="#ff0000"/>
<rect x="921" y="256" width="3" height="16" fill="#ff0000"/>
<rect x="922" y="257" width="1" height="14" fill="#ff4500"/>
<rect x="926" y="255" width="1" height="43" fill="#32cd32"/>
<rect x="925" y="256" width="3" height="17" fill="#32cd32"/>
<rect x="930" y="252" width="1" height="25" fill="#ff0000"/>
<rect x="929" y="270" width="3" height="3" fill="#ff0000"/>
<rect x="930" y="271" width="1" height="1" fill="#ff4500"/>
<rect x="933" y="270" width="3" height="1" fill="#000"/>
<rect x="938" y="227" width="1" height="31" fill="#32cd32"/>
<rect x="937" y="227" width="3" height="14" fill="#32cd32"/>
<rect x="942" y="187" width="1" height="54" fill="#ff0000"/>
<rect x="941" y="208" width="3" height="33" fill="#ff0000"/>
<rect x="942" y="209" width="1" height="31" fill="#ff4500"/>
<rect x="946" y="193" width="1" height="22" fill="#ff0000"/>
<rect x="945" y="203" width="3" height="6" fill="#ff0000"/>
<rect x="946" y="204" width="1" height="4" fill="#ff4500"/>
<rect x="950" y="189" width="1" height="26" fill="#ff0000"/>
<rect x="949" y="189" width="3" height="16" fill="#ff0000"/>
<rect x="950" y="190" width="1" height="14" fill="#ff4500"/>
<rect x="954" y="186" width="1" height="25" fill="#32cd32"/>
<rect x="953" y="190" width="3" height="10" fill="#32cd32"/>
<rect x="958" y="196" width="1" height="15" fill="#32cd32"/>
<rect x="957" y="198" width="3" height="3" fill="#32cd32"/>
<rect x="962" y="182" width="1" height="59" fill="#32cd32"/>
<rect x="961" y="200" width="3" height="32" fill="#32cd32"/>
<rect x="966" y="217" width="1" height="28" fill="#ff0000"/>
<rect x="965" y="226" width="3" height="6" fill="#ff0000"/>
<rect x="966" y="227" width="1" height="4" fill="#ff4500"/>
<rect x="970" y="205" width="1" height="46" fill="#32cd32"/>
<rect x="969" y="226" width="3" height="16" fill="#32cd32"/>
<rect x="974" y="222" width="1" height="27" fill="#ff0000"/>
<rect x="973" y="223" width="3" height="19" fill="#ff0000"/>
<rect x="974" y="224" width="1" height="17" fill="#ff4500"/>
<rect x="978" y="210" width="1" height="24" fill="#32cd32"/>
<rect x="977" y="224" width="3" height="4" fill="#32cd32"/>
<rect x="982" y="216" width="1" height="37" fill="#32cd32"/>
<rect x="981" y="226" width="3" height="27" fill="#32cd32"/>
<rect x="986" y="248" width="1" height="37" fill="#32cd32"/>
<rect x="985" y="251" width="3" height="13" fill="#32cd32"/>
<rect x="990" y="248" width="1" height="25" fill="#ff0000"/>
<rect x="989" y="260" width="3" height="4" fill="#ff0000"/>
<rect x="990" y="261" width="1" height="2" fill="#ff4500"/>
<rect x="994" y="251" width="1" height="15" fill="#ff0000"/>
<rect x="993" y="258" width="3" height="4" fill="#ff0000"/>
<rect x="994" y="259" width="1" height="2" fill="#ff4500"/>
<rect x="998" y="256" width="1" height="42" fill="#32cd32"/>
<rect x="997" y="258" width="3" height="35" fill="#32cd32"/>
<rect x="1002" y="284" width="1" height="24" fill="#32cd32"/>
<rect x="1001" y="291" width="3" height="7" fill="#32cd32"/>
<rect x="1006" y="292" width="1" height="17" fill="#32cd32"/>
<rect x="1005" y="296" width="3" height="9" fill="#32cd32"/>
<rect x="1010" y="288" width="1" height="20" fill="#ff0000"/>
<rect x="1009" y="297" width="3" height="7" fill="#ff0000"/>
<rect x="1010" y="298" width="1" height="5" fill="#ff4500"/>
<rect x="1014" y="295" width="1" height="38" fill="#32cd32"/>
<rect x="1013" y="297" width="3" height="26" fill="#32cd32"/>
<rect x="1018" y="272" width="1" height="51" fill="#ff0000"/>
<rect x="1017" y="283" width="3" height="40" fill="#ff0000"/>
<rect x="1018" y="284" width="1" height="38" fill="#ff4500"/>
<rect x="1022" y="261" width="1" height="38" fill="#ff0000"/>
<rect x="1021" y="271" width="3" height="13" fill="#ff0000"/>
<rect x="1022" y="272" width="1" height="11" fill="#ff4500"/>
<rect x="1026" y="270" width="1" height="17" fill="#32cd32"/>
<rect x="1025" y="271" width="3" height="12" fill="#32cd32"/>
<rect x="1030" y="271" width="1" height="16" fill="#ff0000"/>
<rect x="1029" y="276" width="3" height="7" fill="#ff0000"/>
<rect x="1030" y="277" width="1" height="5" fill="#ff4500"/>
<rect x="1034" y="252" width="1" height="28" fill="#ff0000"/>
<rect x="1033" y="255" width="3" height="23" fill="#ff0000"/>
<rect x="1034" y="256" width="1" height="21" fill="#ff4500"/>
<rect x="652" y="188" width="486" height="2" fill="#00ff00"/>
<rect x="777" y="158" width="277" height="2" fill="#ff0000"/>
<rect x="872" y="334" width="245" height="2" fill="#0000ff"/>
<rect x="849" y="402" width="277" height="2" fill="#0000ff"/>
</g>
<polyline points="0.0,206.7 3.8,209.6 7.7,211.5 13.4,212.5 19.2,209.6 24.9,202.0 30.7,194.3 38.3,192.4 46.0,192.4 53.6,191.4 61.3,188.5 69.0,186.6 74.7,183.8 80.5,178.0 88.0,168.4 95.8,158.9 101.5,153.0 107.3,149.3 115.0,146.4 120.0,145.5 125.0,143.4 129.2,140.0 136.7,140.0 138.3,141.3 145.0,141.3 146.7,142.2 150.0,140.0 155.0,138.8 160.0,136.3 163.3,135.0 168.3,135.0 173.3,132.2 176.0,130.5 178.5,129.5 180.5,128.2 187.0,128.2 188.5,127.5 191.0,126.5 193.0,125.5 198.5,125.5 201.0,124.2 204.0,122.5 206.0,121.5 208.0,120.5 211.0,120.0 214.8,116.2 222.0,110.0 228.0,107.2 231.0,107.2 232.5,106.0 238.0,104.5 244.0,101.0 250.0,97.5 256.0,91.0 260.0,89.0 263.0,88.0 266.0,84.5 270.0,85.5 274.0,82.5 279.0,81.0 283.0,76.0 287.0,72.5 292.0,69.5 296.0,67.5 300.0,65.0 302.0,64.5 304.5,64.5 307.5,65.5 311.0,68.0 315.0,73.5 320.0,83.0 324.0,93.0 331.0,107.0 334.0,115.0 338.0,133.0 344.0,155.0 345.5,160.0 350.0,172.0 356.0,187.7 362.5,201.5 368.6,209.0 374.8,212.0 385.5,212.0 393.0,200.0 399.0,191.0 406.6,188.0 422.6,185.0 433.3,182.4 444.0,174.5 452.0,167.8 458.5,162.5 465.0,153.0 473.0,140.0 481.0,128.0 488.0,116.0 494.5,112.0 496.7,110.3 503.7,109.0 522.3,109.0 534.0,117.3 541.0,130.0 548.0,133.6 555.0,141.8 562.0,146.4 569.0,150.0 576.0,154.6 583.0,160.4 598.0,161.7 608.0,159.0 614.7,156.7 621.3,155.8 626.3,155.0 631.3,150.0 636.3,147.5 643.0,147.5 651.0,150.0 659.7,152.5 668.0,155.0 676.3,159.0 681.3,162.5 690.7,164.0 700.7,159.0 709.0,155.0 717.3,150.0 727.3,144.0 734.0,138.0 740.7,134.0 747.3,130.8 755.7,127.4 762.3,123.3 770.7,124.0 780.0,125.0 788.3,127.4 793.3,130.0 798.3,134.0 805.0,135.0 813.3,136.6 818.3,143.3 823.3,153.3 828.3,163.3 831.0,169.0 838.5,188.4 843.0,208.0 849.0,232.0 855.0,256.0 861.0,280.0 868.3,300.0 872.3,312.0 876.0,319.7 879.0,322.0 881.3,325.0 883.0,327.0 887.0,329.0 889.0,328.7 892.0,327.3 895.0,326.0 897.0,322.0 899.0,317.3 901.0,314.0 903.3,309.2 907.3,301.9 911.3,296.6 916.6,290.6 922.0,286.0 926.0,283.3 931.3,278.6 936.6,272.6 940.6,265.3 944.6,260.0 948.6,254.6 952.6,250.6 956.6,246.6 960.0,243.3 964.6,240.6 968.0,237.3 975.3,231.3 981.8,227.0 992.6,227.0 997.0,231.3 1001.7,240.0 1006.7,248.3 1013.3,261.6 1020.0,269.0 1025.0,272.5 1030.0,276.6 1033.3,278.3 1035.0,277.5" fill="none" stroke="#ff0000" stroke-width="1" shape-rendering="crispEdges"/>
</svg>
<svg x="2" y="414" width="1303" height="137" viewBox="2 414 1303 137">
<g shape-rendering="crispEdges">
<rect x="1" y="452" width="3" height="3" fill="#c0c0c0"/>
<rect x="5" y="451" width="3" height="4" fill="#c0c0c0"/>
<rect x="9" y="450" width="3" height="5" fill="#c0c0c0"/>
<rect x="13" y="448" width="3" height="7" fill="#c0c0c0"/>
<rect x="17" y="447" width="3" height="8" fill="#c0c0c0"/>
<rect x="21" y="446" width="3" height="9" fill="#c0c0c0"/>
<rect x="25" y="448" width="3" height="7" fill="#c0c0c0"/>
<rect x="29" y="451" width="3" height="4" fill="#c0c0c0"/>
<rect x="33" y="453" width="3" height="2" fill="#c0c0c0"/>
<rect x="37" y="454" width="3" height="1" fill="#c0c0c0"/>
<rect x="41" y="455" width="3" height="2" fill="#c0c0c0"/>
<rect x="45" y="454" width="3" height="1" fill="#c0c0c0"/>
<rect x="49" y="452" width="3" height="3" fill="#c0c0c0"/>
<rect x="53" y="450" width="3" height="5" fill="#c0c0c0"/>
<rect x="57" y="449" width="3" height="6" fill="#c0c0c0"/>
<rect x="61" y="446" width="3" height="9" fill="#c0c0c0"/>
<rect x="65" y="445" width="3" height="10" fill="#c0c0c0"/>
<rect x="69" y="442" width="3" height="13" fill="#c0c0c0"/>
<rect x="73" y="439" width="3" height="16" fill="#c0c0c0"/>
<rect x="77" y="435" width="3" height="20" fill="#c0c0c0"/>
<rect x="81" y="431" width="3" height="24" fill="#c0c0c0"/>
<rect x="85" y="429" width="3" height="26" fill="#c0c0c0"/>
<rect x="89" y="427" width="3" height="28" fill="#c0c0c0"/>
<rect x="93" y="429" width="3" height="26" fill="#c0c0c0"/>
<rect x="97" y="430" width="3" height="25" fill="#c0c0c0"/>
<rect x="101" y="435" width="3" height="20" fill="#c0c0c0"/>
<rect x="105" y="437" width="3" height="18" fill="#c0c0c0"/>
<rect x="109" y="437" width="3" height="18" fill="#c0c0c0"/>
<rect x="113" y="437" width="3" height="18" fill="#c0c0c0"/>
<rect x="117" y="439" width="3" height="16" fill="#c0c0c0"/>
<rect x="121" y="439" width="3" height="16" fill="#c0c0c0"/>
<rect x="125" y="438" width="3" height="17" fill="#c0c0c0"/>
<rect x="129" y="436" width="3" height="19" fill="#c0c0c0"/>
<rect x="133" y="436" width="3" height="19" fill="#c0c0c0"/>
<rect x="137" y="437" width="3" height="18" fill="#c0c0c0"/>
<rect x="141" y="438" width="3" height="17" fill="#c0c0c0"/>
<rect x="145" y="438" width="3" height="17" fill="#c0c0c0"/>
<rect x="149" y="438" width="3" height="17" fill="#c0c0c0"/>
<rect x="153" y="438" width="3" height="17" fill="#c0c0c0"/>
<rect x="157" y="439" width="3" height="16" fill="#c0c0c0"/>
<rect x="161" y="441" width="3" height="14" fill="#c0c0c0"/>
<rect x="165" y="442" width="3" height="13" fill="#c0c0c0"/>
<rect x="169" y="442" width="3" height="13" fill="#c0c0c0"/>
<rect x="173" y="442" width="3" height="13" fill="#c0c0c0"/>
<rect x="177" y="441" width="3" height="14" fill="#c0c0c0"/>
<rect x="181" y="442" width="3" height="13" fill="#c0c0c0"/>
<rect x="185" y="441" width="3" height="14" fill="#c0c0c0"/>
<rect x="189" y="442" width="3" height="13" fill="#c0c0c0"/>
<rect x="193" y="439" width="3" height="16" fill="#c0c0c0"/>
<rect x="197" y="440" width="3" height="15" fill="#c0c0c0"/>
<rect x="201" y="440" width="3" height="15" fill="#c0c0c0"/>
<rect x="205" y="439" width="3" height="16" fill="#c0c0c0"/>
<rect x="209" y="441" width="3" height="14" fill="#c0c0c0"/>
<rect x="213" y="436" width="3" height="19" fill="#c0c0c0"/>
<rect x="217" y="436" width="3" height="19" fill="#c0c0c0"/>
<rect x="221" y="434" width="3" height="21" fill="#c0c0c0"/>
<rect x="225" y="437" width="3" height="18" fill="#c0c0c0"/>
<rect x="229" y="439" width="3" height="16" fill="#c0c0c0"/>
<rect x="233" y="438" width="3" height="17" fill="#c0c0c0"/>
<rect x="237" y="438" width="3" height="17" fill="#c0c0c0"/>
<rect x="241" y="439" width="3" height="16" fill="#c0c0c0"/>
<rect x="245" y="438" width="3" height="17" fill="#c0c0c0"/>
<rect x="249" y="436" width="3" height="19" fill="#c0c0c0"/>
<rect x="253" y="434" width="3" height="21" fill="#c0c0c0"/>
<rect x="257" y="432" width="3" height="23" fill="#c0c0c0"/>
<rect x="261" y="432" width="3" height="23" fill="#c0c0c0"/>
<rect x="265" y="432" width="3" height="23" fill="#c0c0c0"/>
<rect x="269" y="433" width="3" height="22" fill="#c0c0c0"/>
<rect x="273" y="434" width="3" height="21" fill="#c0c0c0"/>
<rect x="277" y="434" width="3" height="21" fill="#c0c0c0"/>
<rect x="281" y="434" width="3" height="21" fill="#c0c0c0"/>
<rect x="285" y="433" width="3" height="22" fill="#c0c0c0"/>
<rect x="289" y="433" width="3" height="22" fill="#c0c0c0"/>
<rect x="293" y="433" width="3" height="22" fill="#c0c0c0"/>
<rect x="297" y="434" width="3" height="21" fill="#c0c0c0"/>
<rect x="301" y="434" width="3" height="21" fill="#c0c0c0"/>
<rect x="305" y="437" width="3" height="18" fill="#c0c0c0"/>
<rect x="309" y="444" width="3" height="11" fill="#c0c0c0"/>
<rect x="313" y="452" width="3" height="3" fill="#c0c0c0"/>
<rect x="317" y="455" width="3" height="10" fill="#c0c0c0"/>
<rect x="321" y="455" width="3" height="22" fill="#c0c0c0"/>
<rect x="325" y="455" width="3" height="28" fill="#c0c0c0"/>
<rect x="329" y="455" width="3" height="32" fill="#c0c0c0"/>
<rect x="333" y="455" width="3" height="46" fill="#c0c0c0"/>
<rect x="337" y="455" width="3" height="62" fill="#c0c0c0"/>
<rect x="341" y="455" width="3" height="66" fill="#c0c0c0"/>
<rect x="345" y="455" width="3" height="69" fill="#c0c0c0"/>
<rect x="349" y="455" width="3" height="65" fill="#c0c0c0"/>
<rect x="353" y="455" width="3" height="57" fill="#c0c0c0"/>
<rect x="357" y="455" width="3" height="51" fill="#c0c0c0"/>
<rect x="361" y="455" width="3" height="47" fill="#c0c0c0"/>
<rect x="365" y="455" width="3" height="46" fill="#c0c0c0"/>
<rect x="369" y="455" width="3" height="44" fill="#c0c0c0"/>
<rect x="373" y="455" width="3" height="39" fill="#c0c0c0"/>
<rect x="377" y="455" width="3" height="36" fill="#c0c0c0"/>
<rect x="381" y="455" width="3" height="34" fill="#c0c0c0"/>
<rect x="385" y="455" width="3" height="31" fill="#c0c0c0"/>
<rect x="389" y="455" width="3" height="28" fill="#c0c0c0"/>
<rect x="393" y="455" width="3" height="26" fill="#c0c0c0"/>
<rect x="397" y="455" width="3" height="22" fill="#c0c0c0"/>
<rect x="401" y="455" width="3" height="20" fill="#c0c0c0"/>
<rect x="405" y="455" width="3" height="18" fill="#c0c0c0"/>
<rect x="409" y="455" width="3" height="18" fill="#c0c0c0"/>
<rect x="413" y="455" width="3" height="17" fill="#c0c0c0"/>
<rect x="417" y="455" width="3" height="15" fill="#c0c0c0"/>
<rect x="421" y="455" width="3" height="12" fill="#c0c0c0"/>
<rect x="425" y="455" width="3" height="11" fill="#c0c0c0"/>
<rect x="429" y="455" width="3" height="8" fill="#c0c0c0"/>
<rect x="433" y="455" width="3" height="6" fill="#c0c0c0"/>
<rect x="437" y="455" width="3" height="2" fill="#c0c0c0"/>
<rect x="441" y="452" width="3" height="3" fill="#c0c0c0"/>
<rect x="445" y="447" width="3" height="8" fill="#c0c0c0"/>
<rect x="449" y="444" width="3" height="11" fill="#c0c0c0"/>
<rect x="453" y="442" width="3" height="13" fill="#c0c0c0"/>
<rect x="457" y="440" width="3" height="15" fill="#c0c0c0"/>
<rect x="461" y="437" width="3" height="18" fill="#c0c0c0"/>
<rect x="465" y="434" width="3" height="21" fill="#c0c0c0"/>
<rect x="469" y="429" width="3" height="26" fill="#c0c0c0"/>
<rect x="473" y="426" width="3" height="29" fill="#c0c0c0"/>
<rect x="477" y="424" width="3" height="31" fill="#c0c0c0"/>
<rect x="481" y="423" width="3" height="32" fill="#c0c0c0"/>
<rect x="485" y="421" width="3" height="34" fill="#c0c0c0"/>
<rect x="489" y="424" width="3" height="31" fill="#c0c0c0"/>
<rect x="493" y="428" width="3" height="27" fill="#c0c0c0"/>
<rect x="497" y="429" width="3" height="26" fill="#c0c0c0"/>
<rect x="501" y="432" width="3" height="23" fill="#c0c0c0"/>
<rect x="505" y="434" width="3" height="21" fill="#c0c0c0"/>
<rect x="509" y="438" width="3" height="17" fill="#c0c0c0"/>
<rect x="513" y="441" width="3" height="14" fill="#c0c0c0"/>
<rect x="517" y="442" width="3" height="13" fill="#c0c0c0"/>
<rect x="521" y="443" width="3" height="12" fill="#c0c0c0"/>
<rect x="525" y="445" width="3" height="10" fill="#c0c0c0"/>
<rect x="529" y="448" width="3" height="7" fill="#c0c0c0"/>
<rect x="533" y="450" width="3" height="5" fill="#c0c0c0"/>
<rect x="537" y="453" width="3" height="2" fill="#c0c0c0"/>
<rect x="541" y="455" width="3" height="6" fill="#c0c0c0"/>
<rect x="545" y="455" width="3" height="7" fill="#c0c0c0"/>
<rect x="549" y="455" width="3" height="8" fill="#c0c0c0"/>
<rect x="553" y="455" width="3" height="15" fill="#c0c0c0"/>
<rect x="557" y="455" width="3" height="16" fill="#c0c0c0"/>
<rect x="561" y="455" width="3" height="15" fill="#c0c0c0"/>
<rect x="565" y="455" width="3" height="12" fill="#c0c0c0"/>
<rect x="569" y="455" width="3" height="13" fill="#c0c0c0"/>
<rect x="573" y="455" width="3" height="14" fill="#c0c0c0"/>
<rect x="577" y="455" width="3" height="15" fill="#c0c0c0"/>
<rect x="581" y="455" width="3" height="14" fill="#c0c0c0"/>
<rect x="585" y="455" width="3" height="13" fill="#c0c0c0"/>
<rect x="589" y="455" width="3" height="12" fill="#c0c0c0"/>
<rect x="593" y="455" width="3" height="11" fill="#c0c0c0"/>
<rect x="597" y="455" width="3" height="11" fill="#c0c0c0"/>
<rect x="601" y="455" width="3" height="11" fill="#c0c0c0"/>
<rect x="605" y="455" width="3" height="10" fill="#c0c0c0"/>
<rect x="609" y="455" width="3" height="8" fill="#c0c0c0"/>
<rect x="613" y="455" width="3" height="6" fill="#c0c0c0"/>
<rect x="617" y="455" width="3" height="4" fill="#c0c0c0"/>
<rect x="621" y="455" width="3" height="3" fill="#c0c0c0"/>
<rect x="625" y="453" width="3" height="2" fill="#c0c0c0"/>
<rect x="629" y="452" width="3" height="3" fill="#c0c0c0"/>
<rect x="633" y="451" width="3" height="4" fill="#c0c0c0"/>
<rect x="637" y="452" width="3" height="3" fill="#c0c0c0"/>
<rect x="641" y="455" width="3" height="1" fill="#c0c0c0"/>
<rect x="645" y="455" width="3" height="4" fill="#c0c0c0"/>
<rect x="649" y="455" width="3" height="6" fill="#c0c0c0"/>
<rect x="653" y="455" width="3" height="8" fill="#c0c0c0"/>
<rect x="657" y="455" width="3" height="9" fill="#c0c0c0"/>
<rect x="661" y="455" width="3" height="11" fill="#c0c0c0"/>
<rect x="665" y="455" width="3" height="12" fill="#c0c0c0"/>
<rect x="669" y="455" width="3" height="12" fill="#c0c0c0"/>
<rect x="673" y="455" width="3" height="12" fill="#c0c0c0"/>
<rect x="677" y="455" width="3" height="11" fill="#c0c0c0"/>
<rect x="681" y="455" width="3" height="10" fill="#c0c0c0"/>
<rect x="685" y="455" width="3" height="7" fill="#c0c0c0"/>
<rect x="689" y="455" width="3" height="4" fill="#c0c0c0"/>
<rect x="693" y="453" width="3" height="2" fill="#c0c0c0"/>
<rect x="697" y="451" width="3" height="4" fill="#c0c0c0"/>
<rect x="701" y="450" width="3" height="5" fill="#c0c0c0"/>
<rect x="705" y="451" width="3" height="4" fill="#c0c0c0"/>
<rect x="709" y="451" width="3" height="4" fill="#c0c0c0"/>
<rect x="713" y="451" width="3" height="4" fill="#c0c0c0"/>
<rect x="717" y="450" width="3" height="5" fill="#c0c0c0"/>
<rect x="721" y="450" width="3" height="5" fill="#c0c0c0"/>
<rect x="725" y="448" width="3" height="7" fill="#c0c0c0"/>
<rect x="729" y="446" width="3" height="9" fill="#c0c0c0"/>
<rect x="733" y="446" width="3" height="9" fill="#c0c0c0"/>
<rect x="737" y="443" width="3" height="12" fill="#c0c0c0"/>
<rect x="741" y="441" width="3" height="14" fill="#c0c0c0"/>
<rect x="745" y="440" width="3" height="15" fill="#c0c0c0"/>
<rect x="749" y="439" width="3" height="16" fill="#c0c0c0"/>
<rect x="753" y="439" width="3" height="16" fill="#c0c0c0"/>
<rect x="757" y="439" width="3" height="16" fill="#c0c0c0"/>
<rect x="761" y="438" width="3" height="17" fill="#c0c0c0"/>
<rect x="765" y="443" width="3" height="12" fill="#c0c0c0"/>
<rect x="769" y="446" width="3" height="9" fill="#c0c0c0"/>
<rect x="773" y="449" width="3" height="6" fill="#c0c0c0"/>
<rect x="777" y="451" width="3" height="4" fill="#c0c0c0"/>
<rect x="781" y="452" width="3" height="3" fill="#c0c0c0"/>
<rect x="785" y="454" width="3" height="1" fill="#c0c0c0"/>
<rect x="789" y="455" width="3" height="1" fill="#c0c0c0"/>
<rect x="793" y="455" width="3" height="4" fill="#c0c0c0"/>
<rect x="797" y="455" width="3" height="5" fill="#c0c0c0"/>
<rect x="801" y="455" width="3" height="4" fill="#c0c0c0"/>
<rect x="805" y="455" width="3" height="1" fill="#c0c0c0"/>
<rect x="809" y="452" width="3" height="3" fill="#c0c0c0"/>
<rect x="813" y="451" width="3" height="4" fill="#c0c0c0"/>
<rect x="817" y="455" width="3" height="4" fill="#c0c0c0"/>
<rect x="821" y="455" width="3" height="20" fill="#c0c0c0"/>
<rect x="825" y="455" width="3" height="28" fill="#c0c0c0"/>
<rect x="829" y="455" width="3" height="40" fill="#c0c0c0"/>
<rect x="833" y="455" width="3" height="47" fill="#c0c0c0"/>
<rect x="837" y="455" width="3" height="54" fill="#c0c0c0"/>
<rect x="841" y="455" width="3" height="66" fill="#c0c0c0"/>
<rect x="845" y="455" width="3" height="76" fill="#c0c0c0"/>
<rect x="849" y="455" width="3" height="85" fill="#c0c0c0"/>
<rect x="853" y="455" width="3" height="89" fill="#c0c0c0"/>
<rect x="857" y="455" width="3" height="90" fill="#c0c0c0"/>
<rect x="861" y="455" width="3" height="90" fill="#c0c0c0"/>
<rect x="865" y="455" width="3" height="83" fill="#c0c0c0"/>
<rect x="869" y="455" width="3" height="76" fill="#c0c0c0"/>
<rect x="873" y="455" width="3" height="75" fill="#c0c0c0"/>
<rect x="877" y="455" width="3" height="72" fill="#c0c0c0"/>
<rect x="881" y="455" width="3" height="67" fill="#c0c0c0"/>
<rect x="885" y="455" width="3" height="62" fill="#c0c0c0"/>
<rect x="889" y="455" width="3" height="52" fill="#c0c0c0"/>
<rect x="893" y="455" width="3" height="44" fill="#c0c0c0"/>
<rect x="897" y="455" width="3" height="34" fill="#c0c0c0"/>
<rect x="901" y="455" width="3" height="28" fill="#c0c0c0"/>
<rect x="905" y="455" width="3" height="24" fill="#c0c0c0"/>
<rect x="909" y="455" width="3" height="22" fill="#c0c0c0"/>
<rect x="913" y="455" width="3" height="22" fill="#c0c0c0"/>
<rect x="917" y="455" width="3" height="18" fill="#c0c0c0"/>
<rect x="921" y="455" width="3" height="14" fill="#c0c0c0"/>
<rect x="925" y="455" width="3" height="12" fill="#c0c0c0"/>
<rect x="929" y="455" width="3" height="10" fill="#c0c0c0"/>
<rect x="933" y="455" width="3" height="8" fill="#c0c0c0"/>
<rect x="937" y="455" width="3" height="4" fill="#c0c0c0"/>
<rect x="941" y="450" width="3" height="5" fill="#c0c0c0"/>
<rect x="945" y="444" width="3" height="11" fill="#c0c0c0"/>
<rect x="949" y="437" width="3" height="18" fill="#c0c0c0"/>
<rect x="953" y="433" width="3" height="22" fill="#c0c0c0"/>
<rect x="957" y="431" width="3" height="24" fill="#c0c0c0"/>
<rect x="961" y="433" width="3" height="22" fill="#c0c0c0"/>
<rect x="965" y="434" width="3" height="21" fill="#c0c0c0"/>
<rect x="969" y="437" width="3" height="18" fill="#c0c0c0"/>
<rect x="973" y="437" width="3" height="18" fill="#c0c0c0"/>
<rect x="977" y="438" width="3" height="17" fill="#c0c0c0"/>
<rect x="981" y="442" width="3" height="13" fill="#c0c0c0"/>
<rect x="985" y="447" width="3" height="8" fill="#c0c0c0"/>
<rect x="989" y="450" width="3" height="5" fill="#c0c0c0"/>
<rect x="993" y="453" width="3" height="2" fill="#c0c0c0"/>
<rect x="997" y="455" width="3" height="4" fill="#c0c0c0"/>
<rect x="1001" y="455" width="3" height="11" fill="#c0c0c0"/>
<rect x="1005" y="455" width="3" height="15" fill="#c0c0c0"/>
<rect x="1009" y="455" width="3" height="18" fill="#c0c0c0"/>
<rect x="1013" y="455" width="3" height="23" fill="#c0c0c0"/>
<rect x="1017" y="455" width="3" height="22" fill="#c0c0c0"/>
<rect x="1021" y="455" width="3" height="20" fill="#c0c0c0"/>
<rect x="1025" y="455" width="3" height="18" fill="#c0c0c0"/>
<rect x="1029" y="455" width="3" height="18" fill="#c0c0c0"/>
<rect x="1033" y="455" width="3" height="14" fill="#c0c0c0"/>
</g>
<polyline points="0.0,460.7 25.6,450.3 44.5,450.8 53.4,452.6 66.8,451.3 78.0,446.0 89.0,439.3 100.0,433.5 113.5,432.6 127.0,436.4 144.7,438.0 156.0,437.0 173.7,440.0 186.0,441.4 203.0,441.0 222.0,439.3 240.0,438.0 260.0,437.2 271.0,437.2 280.0,435.4 290.0,433.4 296.0,432.3 300.0,433.2 307.4,433.2 314.8,436.8 322.3,444.2 329.7,456.0 337.0,469.4 344.5,485.8 352.0,499.0 359.4,506.5 368.3,510.4 377.2,505.0 389.0,493.2 404.0,482.8 418.8,473.9 433.6,468.0 442.5,463.5 454.4,456.0 466.3,445.7 478.2,435.3 490.0,428.4 502.0,426.4 513.8,430.8 525.7,437.4 537.6,444.2 549.4,451.0 558.3,459.0 570.2,465.0 585.0,468.0 597.0,467.0 608.8,466.5 620.7,462.0 632.6,458.0 641.5,456.0 656.4,457.0 668.2,460.5 680.0,464.0 689.0,464.0 700.0,460.0 715.6,453.0 733.5,448.6 751.3,444.2 763.0,441.2 775.0,441.2 789.9,446.3 804.7,454.6 816.6,455.5 825.5,460.5 834.4,469.4 843.3,484.3 852.2,502.0 861.1,518.4 870.0,530.3 877.5,534.8 887.9,531.8 899.7,517.0 914.6,494.7 926.5,479.8 941.3,466.5 953.2,454.6 965.0,442.7 977.0,436.8 983.0,436.2 991.8,439.7 1000.7,447.1 1009.6,457.0 1018.5,463.5 1027.4,468.0 1033.4,470.9" fill="none" stroke="#ff0000" stroke-width="1" shape-rendering="crispEdges"/>
</svg>
<g shape-rendering="crispEdges">
<rect x="6" y="31" width="1" height="524" fill="#000"/><rect x="2" y="552" width="1" height="3" fill="#000"/>
<rect x="2" y="470" width="1340" height="1" fill="#000"/>
<path d="M5 41.5 L12 41.5 L8.5 37 Z" fill="#000"/>
</g>
</svg>

<div class="abs" style="left:17px;top:34px;font-size:10px;line-height:12px;color:#000;white-space:nowrap;letter-spacing:-0.33px">USDCNH,H4&nbsp; 6.88016 6.89061 6.87900 6.88929</div>
<div class="pl" style="top:41px">6.98100</div>
<div class="pl" style="top:74px">6.96660</div>
<div class="pl" style="top:107px">6.95220</div>
<div class="pl" style="top:140px">6.93780</div>
<div class="pl" style="top:173px">6.92340</div>
<div class="pl" style="top:206px">6.90900</div>
<div class="pl" style="top:239px">6.89420</div>
<div class="pl" style="top:272px">6.87980</div>
<div class="pl" style="top:305px">6.86540</div>
<div class="pl" style="top:338px">6.85100</div>
<div class="pl" style="top:371px">6.83660</div>
<div class="pl" style="top:404px">6.82220</div>
<div class="abs" style="left:1307px;top:251px;width:40px;height:11px;background:#000"></div>
<div class="pl" style="top:251px;color:#fff">6.88929</div>
<div class="pl" style="top:415px;left:1310px">0.0119</div>
<div class="pl" style="top:451px;left:1310px">0.00</div>
<div class="abs" style="left:1307px;top:466px;width:40px;height:10px;background:#000"></div>
<div class="pl" style="top:465px;left:1311px;color:#fff">-0.00442</div>
<div class="pl" style="top:539px;left:1309px;white-space:nowrap">-0.027754</div>
<div class="abs" style="left:7px;top:418px;font-size:10px;line-height:12px;color:#000;white-space:nowrap;letter-spacing:-0.38px">MACD(12,26,9) -0.003373 -0.004541</div>

<div class="tl" style="left:65px">18 Oct 04:00</div>
<div class="tl" style="left:129px">22 Oct 20:00</div>
<div class="tl" style="left:193px">25 Oct 12:00</div>
<div class="tl" style="left:257px">30 Oct 08:00</div>
<div class="tl" style="left:321px">2 Nov 00:00</div>
<div class="tl" style="left:385px">6 Nov 20:00</div>
<div class="tl" style="left:449px">9 Nov 12:00</div>
<div class="tl" style="left:513px">14 Nov 08:00</div>
<div class="tl" style="left:577px">17 Nov 00:00</div>
<div class="tl" style="left:641px">21 Nov 16:00</div>
<div class="tl" style="left:705px">26 Nov 12:00</div>
<div class="tl" style="left:769px">29 Nov 04:00</div>
<div class="tl" style="left:833px">4 Dec 00:00</div>
<div class="tl" style="left:897px">6 Dec 16:00</div>
<div class="tl" style="left:961px">11 Dec 08:00</div>
<div class="tl" style="left:1025px">14 Dec 00:00</div>
<div class="abs" style="left:0;top:555px;width:46px;height:11px;background:#000"></div>
<div class="tl" style="left:-1px;color:#fff;letter-spacing:-0.55px">0.15 16:00</div>
<div class="tl" style="left:47px">8</div>

<!-- trade panel -->
<div class="abs" style="left:4px;top:49px;width:221px;height:67px;background:#fff"></div>
<div class="abs" style="left:5px;top:50px;width:52px;height:24px;background:linear-gradient(#f44c4c,#dc2e2e);box-shadow:inset 1px 1px 0 #c41010, inset -1px 0 0 #c41010"></div>
<div class="abs" style="left:5px;top:74px;width:109px;height:40px;background:linear-gradient(#d83030,#b00404);box-shadow:inset 1px 0 0 #b00808"></div>
<div class="abs" style="left:9px;top:73px;width:44px;height:1px;background:#8a0a0a"></div>
<div class="abs" style="left:116px;top:74px;width:108px;height:40px;background:linear-gradient(#d83030,#b00404);box-shadow:inset -1px 0 0 #b00808"></div>
<div class="abs" style="left:172px;top:50px;width:52px;height:24px;background:linear-gradient(#f44c4c,#dc2e2e);box-shadow:inset -1px 1px 0 #c41010"></div>
<div class="abs" style="left:176px;top:73px;width:45px;height:1px;background:#8a0a0a"></div>
<div class="abs" style="left:59px;top:50px;width:110px;height:20px;border:1px solid #a9abb3;background:#fff"></div>
<div class="abs" style="left:61px;top:52px;width:19px;height:18px;background:linear-gradient(#efefef 0,#ececec 33%,#d8d8d8 34%,#d4d4d4 100%)"></div>
<div class="abs" style="left:80px;top:51px;width:1px;height:20px;background:#a9abb3"></div>
<div class="abs" style="left:149px;top:52px;width:19px;height:18px;background:linear-gradient(#efefef 0,#ececec 33%,#d8d8d8 34%,#d4d4d4 100%)"></div>
<div class="abs" style="left:148px;top:51px;width:1px;height:20px;background:#a9abb3"></div>
<svg class="abs" style="left:0;top:0" width="230" height="120"><path d="M67 59 L72 59 L69.5 62 Z" fill="#5060c0"/><path d="M156 63 L161 63 L158.5 60 Z" fill="#4060c0"/></svg>
<div class="abs" style="left:120px;top:53px;font-size:13px;line-height:15px;color:#1a1a2a">3.00</div>
<div class="abs" style="left:17px;top:55px;font-size:11.5px;line-height:14px;color:#fff;letter-spacing:-0.2px">SELL</div>
<div class="abs" style="left:185px;top:55px;font-size:11.5px;line-height:14px;color:#fff;letter-spacing:-0.2px">BUY</div>
<div class="abs" style="left:24px;top:93px;font-size:13px;line-height:15px;color:#fff;font-weight:bold">6.88</div>
<div class="abs" style="left:52px;top:76px;font-size:33px;line-height:36px;color:#fff">92</div>
<div class="abs" style="left:92px;top:79px;font-size:12px;line-height:13px;color:#fff;font-weight:bold">9</div>
<div class="abs" style="left:134px;top:93px;font-size:13px;line-height:15px;color:#fff;font-weight:bold">6.89</div>
<div class="abs" style="left:163px;top:76px;font-size:33px;line-height:36px;color:#fff">15</div>
<div class="abs" style="left:203px;top:79px;font-size:12px;line-height:13px;color:#fff;font-weight:bold">4</div>

<!-- tab bar -->
<div class="abs" style="left:0;top:572px;width:1347px;height:1px;background:#e6e6e6"></div>
<div class="abs" style="left:0;top:573px;width:1347px;height:1px;background:#fcfcfc"></div>
<div class="abs" style="left:0;top:574px;width:1347px;height:1px;background:#000"></div>
<div class="abs" style="left:0;top:575px;width:1347px;height:20px;background:#f0f0f0"></div>
<div class="abs" style="left:0;top:595px;width:1347px;height:2px;background:#f8f8f8"></div>
<div class="abs" style="left:0;top:597px;width:1347px;height:1px;background:#d0d0d0"></div>
<div class="abs" style="left:0;top:598px;width:1347px;height:1px;background:#a0a0a0"></div>
<div class="abs" style="left:0;top:599px;width:1347px;height:2px;background:#fafafa"></div>
<div class="abs" style="left:367px;top:575px;width:90px;height:17px;background:#fff;border:1px solid #000;border-width:0 1px 1px 1px"></div>
<div class="tab" style="left:15px;width:69px;color:#6d6d6d"><span style="display:inline-block;transform-origin:0 0">EURUSD,H4</span></div>
<div class="tab" style="left:106px;width:71px;color:#6d6d6d"><span style="display:inline-block;transform-origin:0 0">AUDUSD,H4</span></div>
<div class="tab" style="left:197px;width:68px;color:#6d6d6d"><span style="display:inline-block;transform-origin:0 0">USDCHF,H4</span></div>
<div class="tab" style="left:286px;width:70px;color:#6d6d6d"><span style="display:inline-block;transform-origin:0 0">USDCAD,H4</span></div>
<div class="tab" style="left:377px;width:71px;color:#000"><span style="display:inline-block;transform-origin:0 0">USDCNH,H4</span></div>
<div class="tab" style="left:469px;width:63px;color:#6d6d6d"><span style="display:inline-block;transform-origin:0 0">USDJPY,H1</span></div>
<div class="tab" style="left:554px;width:70px;color:#6d6d6d"><span style="display:inline-block;transform-origin:0 0">XAUUSD,H1</span></div>
<div class="tab" style="left:647px;width:68px;color:#6d6d6d"><span style="display:inline-block;transform-origin:0 0">GBPUSD,H1</span></div>
<div class="tab" style="left:738px;width:54px;color:#6d6d6d"><span style="display:inline-block;transform-origin:0 0">SP500,H1</span></div>
<div class="sep" style="left:96px"></div>
<div class="sep" style="left:188px"></div>
<div class="sep" style="left:276px"></div>
<div class="sep" style="left:544px"></div>
<div class="sep" style="left:636px"></div>
<div class="sep" style="left:727px"></div>
<div class="sep" style="left:803px"></div>
<svg class="abs" style="left:1310px;top:576px" width="37" height="14"><path d="M10 4 L10 11 L6 7.5 Z" fill="#a0a0a0"/><path d="M26 4 L26 11 L30 7.5 Z" fill="#a0a0a0"/></svg>
</body></html>
